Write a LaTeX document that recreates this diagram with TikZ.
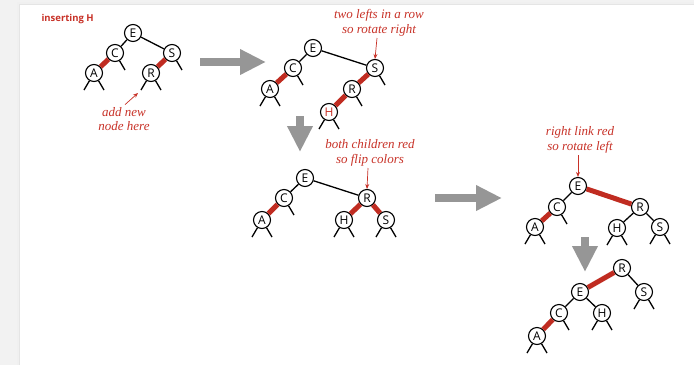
\documentclass[tikz,border=0pt]{standalone}
\usepackage{fontspec}
\setmainfont{Liberation Serif}
\setsansfont{Open Sans}
\usetikzlibrary{arrows.meta}
\definecolor{rbred}{RGB}{192,44,33}
\definecolor{txtred}{RGB}{200,50,40}
\definecolor{arrgray}{RGB}{150,150,150}
\definecolor{bggray}{RGB}{242,242,242}
\tikzset{
  key/.style={circle,draw=black,fill=white,line width=1.1pt,minimum size=17pt,inner sep=0pt,font=\sffamily\fontsize{12}{12}\selectfont},
  redkey/.style={key,text=txtred},
  blk/.style={draw=black,line width=1.3pt},
  redl/.style={draw=rbred,line width=5pt},
  stub/.style={draw=black,line width=1.3pt},
  note/.style={text=txtred,font=\itshape\fontsize{13}{14.5}\selectfont,align=center},
  notearrow/.style={draw=txtred,line width=0.7pt,-{Stealth[length=5pt,width=4pt]}},
  bigarrow/.style={draw=arrgray,line width=8pt,-{Triangle[length=26pt,width=24pt]}}
}
\newcommand{\lstub}[1]{\draw[stub] (#1) -- +(-10,17);}
\newcommand{\rstub}[1]{\draw[stub] (#1) -- +(10,17);}
\newcommand{\bstubs}[1]{\lstub{#1}\rstub{#1}}
\begin{document}
\begin{tikzpicture}[x=1pt,y=-1pt]
\useasboundingbox (0,0) rectangle (694,365);
\fill[bggray] (0,0) rectangle (694,365);
\fill[gray!12] (17,2) rectangle (694,365);
\fill[gray!20] (19,4) rectangle (694,365);
\fill[white] (20,5) rectangle (694,365);

\node[text=txtred,font=\sffamily\fontsize{9.5}{9.5}\selectfont\bfseries,anchor=west] (title) at (38,19) {inserting H};

% ---- Tree 1
\node[key] (E1) at (133,33) {E};
\node[key] (C1) at (115,53) {C};
\node[key] (S1) at (172,53) {S};
\node[key] (A1) at (94,73) {A};
\node[key] (R1) at (151,73) {R};
\draw[blk] (E1) -- (C1);
\draw[blk] (E1) -- (S1);
\draw[redl] (C1) -- (A1);
\draw[redl] (S1) -- (R1);
\bstubs{A1}\rstub{C1}\rstub{S1}\bstubs{R1}
\node[note] (n1) at (124,119) {add new\\node here};
\coordinate (n1t) at (138,93);
\draw[notearrow] (n1.north) ++(1,1) -- (n1t);

\draw[bigarrow] (200,62) -- (266,62);

% ---- Tree 2
\node[key] (E2) at (313,48) {E};
\node[key] (C2) at (293,68) {C};
\node[key] (S2) at (375,68) {S};
\node[key] (A2) at (270,89) {A};
\node[key] (R2) at (352,89) {R};
\node[redkey] (H2) at (329,112) {H};
\draw[blk] (E2) -- (C2);
\draw[blk] (E2) -- (S2);
\draw[redl] (C2) -- (A2);
\draw[redl] (S2) -- (R2);
\draw[redl] (R2) -- (H2);
\bstubs{A2}\rstub{C2}\rstub{S2}\rstub{R2}\bstubs{H2}
\node[note] (n2) at (379,23) {two lefts in a row\\so rotate right};
\draw[notearrow] (377,38) -- (S2.north);

\draw[bigarrow] (300,116) -- (300,152);

% ---- Tree 3
\node[key] (E3) at (305,178) {E};
\node[key] (C3) at (284,198) {C};
\node[key] (R3) at (367,198) {R};
\node[key] (A3) at (262,220) {A};
\node[key] (H3) at (344,220) {H};
\node[key] (S3) at (386,220) {S};
\draw[blk] (E3) -- (C3);
\draw[blk] (E3) -- (R3);
\draw[redl] (C3) -- (A3);
\draw[redl] (R3) -- (H3);
\draw[redl] (R3) -- (S3);
\bstubs{A3}\rstub{C3}\bstubs{H3}\bstubs{S3}
\node[note] (n3) at (370,153) {both children red\\so flip colors};
\draw[notearrow] (368,168) -- (R3.north);

\draw[bigarrow] (435,198) -- (502,198);

% ---- Tree 4
\node[key] (E4) at (578,186) {E};
\node[key] (C4) at (557,207) {C};
\node[key] (R4) at (640,207) {R};
\node[key] (A4) at (535,227) {A};
\node[key] (H4) at (617,228) {H};
\node[key] (S4) at (660,227) {S};
\draw[blk] (E4) -- (C4);
\draw[redl] (E4) -- (R4);
\draw[redl] (C4) -- (A4);
\draw[blk] (R4) -- (H4);
\draw[blk] (R4) -- (S4);
\bstubs{A4}\rstub{C4}\bstubs{H4}\bstubs{S4}
\node[note] (n4) at (580,140) {right link red\\so rotate left};
\draw[notearrow] (578,155) -- (E4.north);

\draw[bigarrow] (585,237) -- (585,272);

% ---- Tree 5
\node[key] (R5) at (622,268) {R};
\node[key] (E5) at (580,292) {E};
\node[key] (S5) at (644,292) {S};
\node[key] (C5) at (559,313) {C};
\node[key] (H5) at (602,313) {H};
\node[key] (A5) at (537,336) {A};
\draw[redl] (R5) -- (E5);
\draw[blk] (R5) -- (S5);
\draw[blk] (E5) -- (C5);
\draw[blk] (E5) -- (H5);
\draw[redl] (C5) -- (A5);
\bstubs{A5}\rstub{C5}\bstubs{H5}\bstubs{S5}
\end{tikzpicture}
\end{document}
